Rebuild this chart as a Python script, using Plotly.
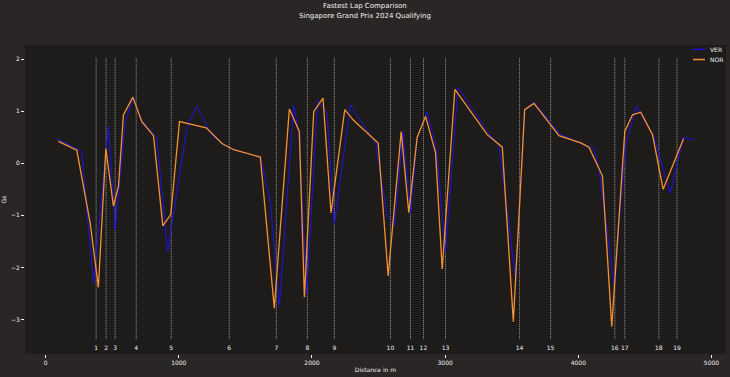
import plotly.graph_objects as go

# ---- data ----
ver_dist = [83, 271, 359, 472, 522, 597, 655, 722, 835, 915, 1061, 1136, 1249, 1324, 1412,
            1612, 1687, 1755, 1863, 1900, 1960, 2043, 2113, 2168, 2289, 2477, 2565, 2620,
            2682, 2740, 2790, 2865, 2935, 3003, 3096, 3310, 3404, 3529, 3597, 3667, 3867,
            4018, 4118, 4156, 4269, 4353, 4437, 4569, 4690, 4790, 4870]
ver_gs = [0.47, 0.23, -2.31, 0.72, -1.27, 0.77, 1.25, 0.82, 0.49, -1.71, 0.68, 1.10, 0.53, 0.38, 0.26,
          0.12, -0.73, -2.75, 1.12, 0.58, -2.50, 1.22, 0.96, -1.17, 1.12, 0.39, -1.01, -1.19,
          0.59, -0.97, 0.50, 0.99, 0.26, -1.71, 1.46, 0.63, 0.36, -2.22, 1.03, 1.17, 0.55,
          0.39, 0.28, -0.12, -2.35, 0.33, 1.10, 0.50, -0.58, 0.50, 0.44]

nor_dist = [96, 234, 334, 396, 452, 509, 547, 584, 655, 722, 810, 880, 940, 1005, 1206, 1324,
            1412, 1612, 1717, 1830, 1905, 1943, 2013, 2083, 2143, 2246, 2314, 2497, 2572,
            2670, 2727, 2790, 2853, 2928, 2978, 3073, 3316, 3429, 3512, 3597, 3667, 3855,
            4018, 4080, 4181, 4251, 4349, 4407, 4469, 4557, 4637, 4790]
nor_gs = [0.42, 0.25, -1.14, -2.38, 0.28, -0.82, -0.44, 0.93, 1.27, 0.80, 0.53, -1.20, -0.98, 0.80, 0.68, 0.38,
          0.26, 0.12, -2.78, 1.04, 0.61, -2.57, 0.99, 1.25, -0.95, 1.03, 0.82, 0.39, -2.16,
          0.61, -0.95, 0.50, 0.90, 0.20, -2.03, 1.42, 0.55, 0.31, -3.04, 1.03, 1.15, 0.53,
          0.39, 0.31, -0.24, -3.13, 0.61, 0.93, 0.98, 0.55, -0.50, 0.47]

corner_num = list(range(1, 20))
corner_dist = [379, 454, 522, 680, 943, 1379, 1732, 1965, 2168, 2589, 2740, 2837, 3003,
               3559, 3792, 4274, 4349, 4605, 4741]

vline_bottom = -3.37
vline_top = 2.02
label_y = -3.55

title_lines = ["Fastest Lap Comparison", "Singapore Grand Prix 2024 Qualifying"]
driver_names = ["VER", "NOR"]
driver_colors = ["#2010e8", "#f5922f"]

TXT = "#F1F1F3"
FONT = "DejaVu Sans"

fig = go.Figure()

# corner dotted lines
vx, vy = [], []
for d in corner_dist:
    vx += [d, d, None]
    vy += [vline_bottom, vline_top, None]
fig.add_trace(go.Scatter(x=vx, y=vy, mode="lines", line=dict(color="#9a9a9a", width=1, dash="1px,1px"),
                         showlegend=False, hoverinfo="skip"))
fig.add_trace(go.Scatter(x=corner_dist, y=[label_y] * len(corner_dist), mode="text",
                         text=[str(n) for n in corner_num], textposition="middle center",
                         textfont=dict(family=FONT, size=6, color=TXT),
                         showlegend=False, hoverinfo="skip"))

fig.add_trace(go.Scatter(x=ver_dist, y=ver_gs, mode="lines", name=driver_names[0],
                         line=dict(color=driver_colors[0], width=1)))
fig.add_trace(go.Scatter(x=nor_dist, y=nor_gs, mode="lines", name=driver_names[1],
                         line=dict(color=driver_colors[1], width=1.3)))

# manual matplotlib-like legend
legend_y = [0.986, 0.953]
for name, col, ly in zip(driver_names, driver_colors, legend_y):
    fig.add_shape(type="line", xref="paper", yref="paper", x0=0.953, x1=0.970, y0=ly, y1=ly,
                  line=dict(color=col, width=1.5))
    fig.add_annotation(xref="paper", yref="paper", x=0.975, y=ly, text=name, showarrow=False,
                       xanchor="left", yanchor="middle", font=dict(family=FONT, size=6, color=TXT))

# title (centred on the figure, not the plot area)
title_x = (365 - 25) / 701
fig.add_annotation(xref="paper", yref="paper", x=title_x, y=1 + (45 - 6) / 309, text=title_lines[0],
                   showarrow=False, xanchor="center", yanchor="middle",
                   font=dict(family=FONT, size=7, color=TXT))
fig.add_annotation(xref="paper", yref="paper", x=title_x, y=1 + (45 - 16) / 309, text=title_lines[1],
                   showarrow=False, xanchor="center", yanchor="middle",
                   font=dict(family=FONT, size=7, color=TXT))

fig.update_layout(
    width=730, height=377,
    margin=dict(l=25, r=4, t=45, b=23),
    paper_bgcolor="#292625", plot_bgcolor="#1e1c1b",
    showlegend=False,
    font=dict(family=FONT, size=6, color=TXT),
)
fig.update_xaxes(range=[-155, 5109], tickvals=[0, 1000, 2000, 3000, 4000, 5000],
                 ticks="outside", ticklen=3, tickwidth=1, tickcolor=TXT,
                 showgrid=False, zeroline=False, showline=False,
                 tickfont=dict(family=FONT, size=6, color=TXT),
                 title=dict(text="Distance in m", font=dict(family=FONT, size=6, color=TXT), standoff=2),
                 automargin=False)
fig.update_yaxes(range=[-3.66, 2.27], tickvals=[-3, -2, -1, 0, 1, 2],
                 ticks="outside", ticklen=3, tickwidth=1, tickcolor=TXT,
                 showgrid=False, zeroline=False, showline=False,
                 tickfont=dict(family=FONT, size=6, color=TXT),
                 title=dict(text="Gs", font=dict(family=FONT, size=6, color=TXT), standoff=6),
                 automargin=False)

fig.write_html("out.html", config={"displayModeBar": False},
               post_script="document.body.style.margin='0px';document.body.style.background='#292625';")
